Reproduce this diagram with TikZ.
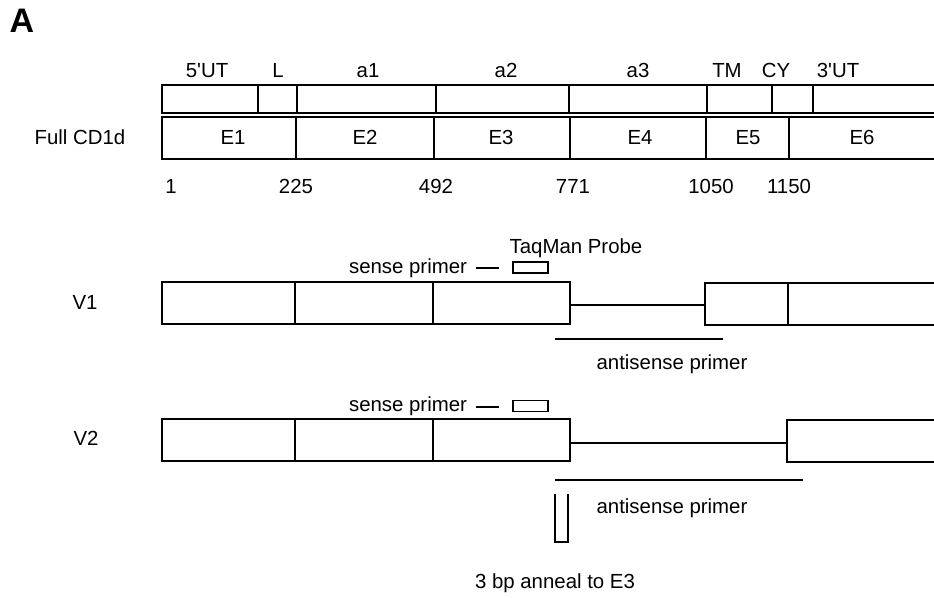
\documentclass[tikz,border=0pt]{standalone}
\usepackage{fontspec}
\setmainfont{Liberation Sans}[Ligatures=TeXOff]
\begin{document}
\begin{tikzpicture}[x=1pt,y=-1pt,
  lbl/.style={inner sep=0pt,anchor=base,font=\fontsize{20.4}{24}\selectfont},
  seg/.style={line width=1.6pt,line join=miter},
  tick/.style={line width=2.4pt},
  thin/.style={line width=1.4pt}]
\useasboundingbox (0,0) rectangle (934,597);
% panel label
\node[inner sep=0pt,font=\fontsize{34}{40}\selectfont\bfseries] (A) at (22,21) {A};
% region labels
\foreach \n/\x/\t in {r1/207/5'UT, r2/278/L, r3/368/a1, r4/506/a2, r5/638/a3, r6/727/TM, r7/776/CY, r8/838/3'UT}
  \node[lbl] (\n) at (\x,77) {\t};
% upper (domain) box
\draw[seg] (934,85) -- (162,85) -- (162,113) -- (934,113);
\foreach \x in {258,297,436,569,707,772,813}
  \draw[tick] (\x,85) -- (\x,113);
% lower (exon) box
\draw[seg] (934,117) -- (162,117) -- (162,159) -- (934,159);
\foreach \x in {296,434,570,706,789}
  \draw[seg] (\x,117) -- (\x,159);
\node[lbl] (full) at (80,144) {Full CD1d};
\foreach \n/\x/\t in {e1/233/E1, e2/365/E2, e3/501/E3, e4/640/E4, e5/748/E5, e6/862/E6}
  \node[lbl] (\n) at (\x,144) {\t};
% positions
\foreach \n/\x/\t in {p1/171/1, p2/296/225, p3/436/492, p4/573/771, p5/711/1050, p6/789/1150}
  \node[lbl] (\n) at (\x,193) {\t};
% ---------------- V1
\node[lbl] (v1) at (85,309) {V1};
\node[lbl] (tq) at (576,253) {TaqMan Probe};
\node[lbl] (s1) at (408,273) {sense primer};
\coordinate (s1a) at (476,268); \coordinate (s1b) at (499,268);
\draw[thin] (s1a) -- (s1b);
\node[draw,thin,minimum width=35pt,minimum height=11pt,inner sep=0pt] (pr1) at (530.5,267.5) {};
\draw[seg] (570,282) -- (162,282) -- (162,324) -- (570,324) -- cycle;
\draw[seg] (295,282) -- (295,324);
\draw[seg] (433,282) -- (433,324);
\draw[seg] (934,283) -- (705,283) -- (705,325) -- (934,325);
\draw[seg] (788,283) -- (788,325);
\coordinate (i1a) at (570,305); \coordinate (i1b) at (705,305);
\draw[thin] (i1a) -- (i1b);
\coordinate (a1a) at (555,339); \coordinate (a1b) at (723,339);
\draw[seg] (a1a) -- (a1b);
\node[lbl] (as1) at (672,369) {antisense primer};
% ---------------- V2
\node[lbl] (v2) at (86,445) {V2};
\node[lbl] (s2) at (408,411) {sense primer};
\coordinate (s2a) at (476,407); \coordinate (s2b) at (499,407);
\draw[thin] (s2a) -- (s2b);
\node[draw,thin,minimum width=35pt,minimum height=11pt,inner sep=0pt] (pr2) at (530.5,406) {};
\draw[seg] (570,419) -- (162,419) -- (162,461) -- (570,461) -- cycle;
\draw[seg] (295,419) -- (295,461);
\draw[seg] (433,419) -- (433,461);
\draw[seg] (934,420) -- (787,420) -- (787,462) -- (934,462);
\coordinate (i2a) at (570,443); \coordinate (i2b) at (787,443);
\draw[thin] (i2a) -- (i2b);
\coordinate (a2a) at (555,480); \coordinate (a2b) at (803,480);
\draw[seg] (a2a) -- (a2b);
\node[lbl] (as2) at (672,513) {antisense primer};
\draw[thin] (555,494) -- (555,542) -- (568,542) -- (568,494);
\node[lbl] (bp) at (555,588) {3 bp anneal to E3};
\end{tikzpicture}
\end{document}
